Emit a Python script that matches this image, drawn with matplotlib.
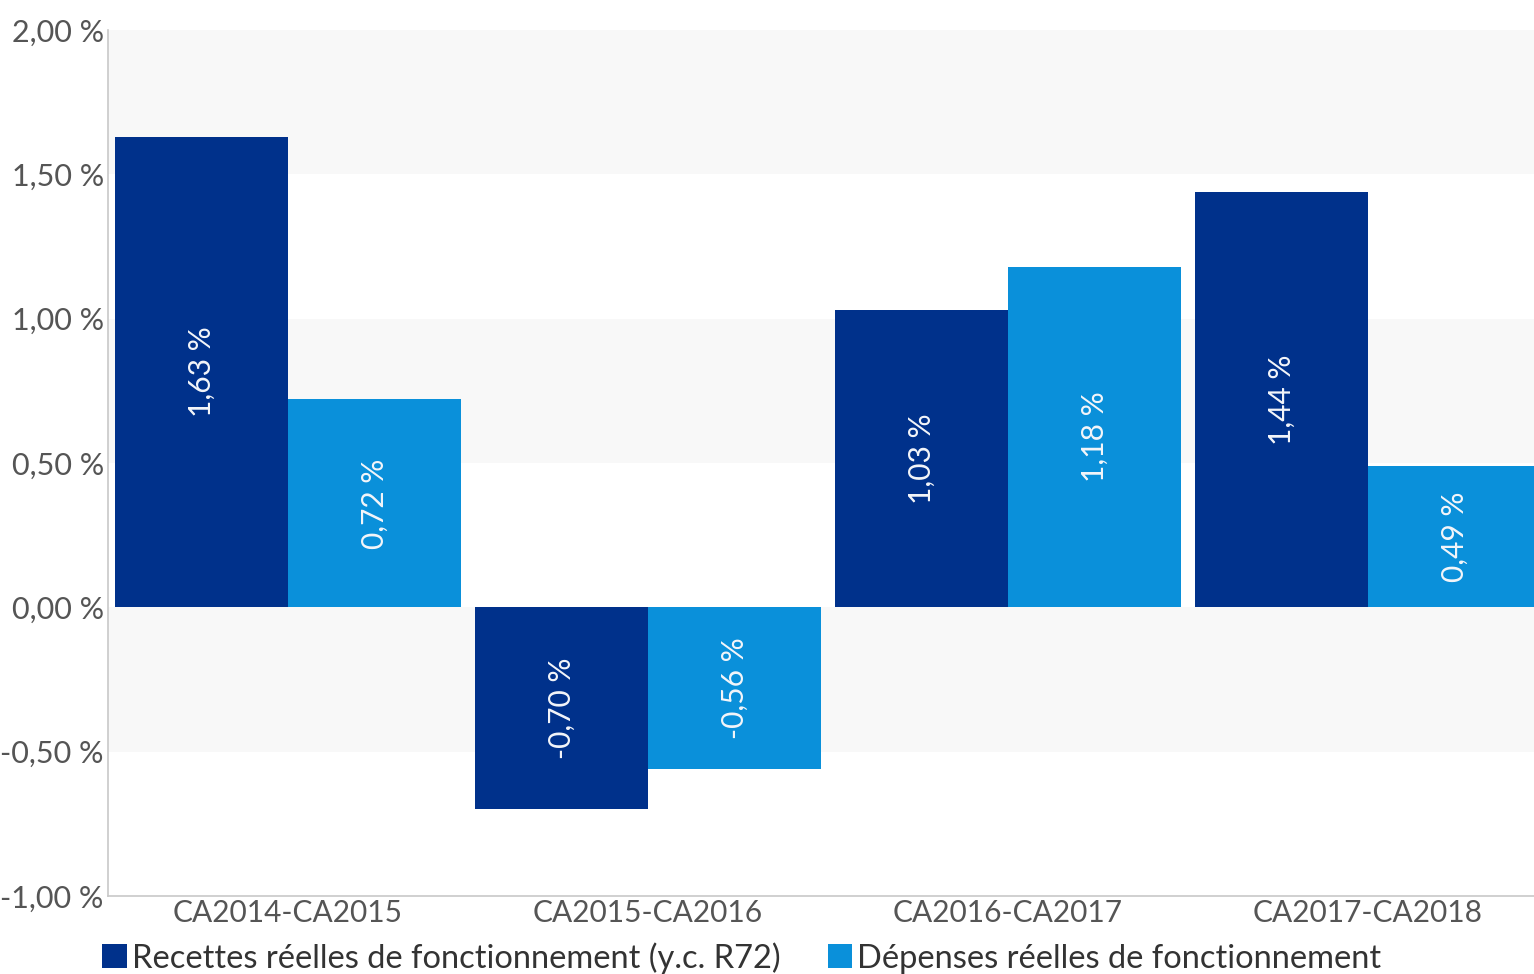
import matplotlib
matplotlib.use("Agg")
import matplotlib.pyplot as plt
import numpy as np

# variation annuelle des recettes et dépenses réelles de fonctionnement
periodes = ["CA2014-CA2015", "CA2015-CA2016", "CA2016-CA2017", "CA2017-CA2018"]
recettes = [1.63, -0.70, 1.03, 1.44]
depenses = [0.72, -0.56, 1.18, 0.49]
noms_series = ["Recettes réelles de fonctionnement (y.c. R72)",
               "Dépenses réelles de fonctionnement"]
couleurs = ["#00318b", "#0a90da"]

plt.rcParams["font.family"] = ["Lato", "DejaVu Sans"]

def fmt_pct(v):
    return ("%.2f %%" % v).replace(".", ",")

fig = plt.figure(figsize=(15.34, 9.74), dpi=100)
ax = fig.add_axes([108 / 1534, 78 / 974, 1440 / 1534, 866 / 974])

x = np.arange(len(periodes))
w = 0.48
b1 = ax.bar(x - w / 2, recettes, w, color=couleurs[0], label=noms_series[0], zorder=2)
b2 = ax.bar(x + w / 2, depenses, w, color=couleurs[1], label=noms_series[1], zorder=2)

# étiquettes de valeur verticales au centre des barres
for bars, vals in ((b1, recettes), (b2, depenses)):
    for rect, v in zip(bars, vals):
        ax.text(rect.get_x() + rect.get_width() / 2, v / 2, fmt_pct(v),
                rotation=90, ha="center", va="center", color="#f4f6fa",
                fontsize=21.5, zorder=3)

# bandes grises alternées
ticks = np.arange(-1.0, 2.01, 0.5)
for lo, hi in zip(ticks[:-1], ticks[1:]):
    if int(round(hi * 2)) % 2 == 0:
        ax.axhspan(lo, hi, color="#f8f8f8", zorder=0, lw=0)

ax.set_xlim(-0.5, len(periodes) - 0.5)
ax.set_ylim(-1.0, 2.0)
ax.set_yticks(ticks)
ax.set_yticklabels([fmt_pct(t) for t in ticks])
ax.set_xticks(x)
ax.set_xticklabels(periodes)
ax.tick_params(axis="both", length=0, labelsize=22, labelcolor="#555555")
ax.tick_params(axis="x", labelsize=21.5, pad=2)
ax.tick_params(axis="y", pad=3)

for s in ("top", "right"):
    ax.spines[s].set_visible(False)
for s in ("left", "bottom"):
    ax.spines[s].set_color("#c8c8c8")
    ax.spines[s].set_linewidth(1.2)

leg = fig.legend(handles=[b1, b2], loc="lower left", bbox_to_anchor=(73 / 1534, -29 / 974),
                 ncol=2, frameon=False, fontsize=23.5, handlelength=0.75, handleheight=0.75,
                 handletextpad=0.15, columnspacing=1.45)
for t in leg.get_texts():
    t.set_color("#333333")

fig.savefig("out.png", dpi=100)
